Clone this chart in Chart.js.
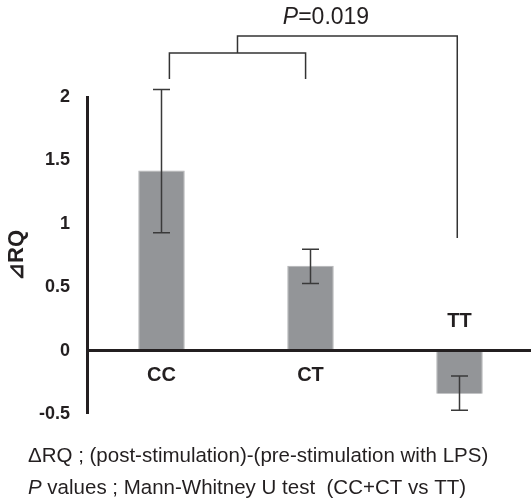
<!DOCTYPE html>
<html>
<head>
<meta charset="utf-8">
<script src="https://cdn.jsdelivr.net/npm/chart.js@4.4.1/dist/chart.umd.min.js"></script>
<style>
  html, body { margin: 0; padding: 0; background: #ffffff; overflow: hidden; }
  #wrap { width: 531px; height: 500px; overflow: hidden; position: relative; }
  canvas { display: block; }
</style>
</head>
<body>
<div id="wrap"><canvas id="chart" width="534" height="500"></canvas></div>
<script>
// ---- data ----
const categories = ['CC', 'CT', 'TT'];
const meanValues = [1.42, 0.67, -0.34];
const errorUpper = [2.06, 0.80, -0.20];
const errorLower = [0.93, 0.53, -0.47];
const yTickValues = [-0.5, 0, 0.5, 1, 1.5, 2];
const yTickLabels = ['-0.5', '0', '0.5', '1', '1.5', '2'];
const yTitle = '\u22BFRQ';
const pValueLabel = ['P', '=0.019'];
// bracket annotation levels (in data units) and category anchors
const innerBracket = { from: 0.053, to: 0.967, level: 2.347, legEnd: 2.142 };
const outerBracket = { to: 1.985, level: 2.481, rightLegEnd: 0.888, labelAt: 1.104, labelLevel: 2.574 };
const footnoteLine1 = '\u0394RQ ; (post-stimulation)-(pre-stimulation with LPS)';
const footnoteLine2 = ['P', ' values ; Mann-Whitney U test  (CC+CT vs TT)'];

const FONT = '"Liberation Sans", Arial, Helvetica, sans-serif';
const INK = '#231f20';

const overlayPlugin = {
  id: 'overlay',
  afterDatasetsDraw(chart) {
    const ctx = chart.ctx;
    const xs = chart.scales.x, ys = chart.scales.y;
    ctx.save();
    ctx.strokeStyle = '#3a3a3a';
    ctx.lineWidth = 1.5;
    const cap = 8.5;
    for (let i = 0; i < categories.length; i++) {
      const x = xs.getPixelForValue(i);
      const yt = ys.getPixelForValue(errorUpper[i]);
      const yb = ys.getPixelForValue(errorLower[i]);
      ctx.beginPath();
      ctx.moveTo(x, yt); ctx.lineTo(x, yb);
      ctx.moveTo(x - cap, yt); ctx.lineTo(x + cap, yt);
      ctx.moveTo(x - cap, yb); ctx.lineTo(x + cap, yb);
      ctx.stroke();
    }
    ctx.restore();
  },
  afterDraw(chart) {
    const ctx = chart.ctx;
    const xs = chart.scales.x, ys = chart.scales.y;
    const step = xs.getPixelForValue(1) - xs.getPixelForValue(0);
    const px = v => xs.getPixelForValue(0) + v * step;
    const py = v => ys.getPixelForValue(v);
    const zero = py(0);
    ctx.save();
    // category labels
    ctx.fillStyle = INK;
    ctx.font = 'bold 20px ' + FONT;
    ctx.textAlign = 'center';
    ctx.textBaseline = 'middle';
    for (let i = 0; i < categories.length; i++) {
      const y = meanValues[i] >= 0 ? zero + 25 : zero - 29;
      ctx.fillText(categories[i], xs.getPixelForValue(i), y);
    }
    // brackets
    ctx.strokeStyle = '#333333';
    ctx.lineWidth = 1.5;
    const ix1 = px(innerBracket.from), ix2 = px(innerBracket.to);
    const iy = py(innerBracket.level), iyEnd = py(innerBracket.legEnd);
    ctx.beginPath();
    ctx.moveTo(ix1, iyEnd); ctx.lineTo(ix1, iy); ctx.lineTo(ix2, iy); ctx.lineTo(ix2, iyEnd);
    const mid = (ix1 + ix2) / 2;
    const oy = py(outerBracket.level);
    const ox2 = px(outerBracket.to);
    ctx.moveTo(mid, iy); ctx.lineTo(mid, oy); ctx.lineTo(ox2, oy); ctx.lineTo(ox2, py(outerBracket.rightLegEnd));
    ctx.stroke();
    // P value label
    ctx.textBaseline = 'alphabetic';
    ctx.textAlign = 'left';
    ctx.font = 'italic 23px ' + FONT;
    const w1 = ctx.measureText(pValueLabel[0]).width;
    ctx.font = '23px ' + FONT;
    const w2 = ctx.measureText(pValueLabel[1]).width;
    const lx = px(outerBracket.labelAt) - (w1 + w2) / 2;
    const ly = py(outerBracket.labelLevel);
    ctx.font = 'italic 23px ' + FONT;
    ctx.fillText(pValueLabel[0], lx, ly);
    ctx.font = '23px ' + FONT;
    ctx.fillText(pValueLabel[1], lx + w1, ly);
    // footnotes
    const bottom = chart.chartArea.bottom;
    ctx.font = '20.5px ' + FONT;
    ctx.fillText(footnoteLine1, 28, bottom + 47.5);
    ctx.font = 'italic 20.5px ' + FONT;
    const fw = ctx.measureText(footnoteLine2[0]).width;
    ctx.fillText(footnoteLine2[0], 28, bottom + 80);
    ctx.font = '20.5px ' + FONT;
    ctx.fillText(footnoteLine2[1], 28 + fw, bottom + 80);
    ctx.restore();
  }
};

new Chart(document.getElementById('chart'), {
  type: 'bar',
  data: {
    labels: categories,
    datasets: [{
      data: meanValues,
      backgroundColor: '#939598',
      borderColor: '#b3b4b6',
      borderWidth: { left: 1, right: 1, top: 1, bottom: 0 },
      borderSkipped: 'start',
      barPercentage: 0.312,
      categoryPercentage: 1.0
    }]
  },
  options: {
    responsive: false,
    animation: false,
    devicePixelRatio: 1,
    layout: { padding: { top: 97, bottom: 86, left: 0, right: 0 } },
    plugins: { legend: { display: false }, tooltip: { enabled: false }, title: { display: false } },
    scales: {
      x: { type: 'category', display: false, offset: true },
      y: {
        min: -0.5, max: 2,
        z: 1,
        afterFit(scale) { scale.width = 87; },
        afterBuildTicks(scale) { scale.ticks = yTickValues.map(v => ({ value: v })); },
        ticks: {
          padding: 17,
          color: INK,
          font: { family: FONT, size: 18, weight: 'bold' },
          callback: (v) => { const k = yTickValues.indexOf(v); return k >= 0 ? yTickLabels[k] : ''; }
        },
        grid: {
          drawTicks: false,
          color: c => (c.tick && c.tick.value === 0) ? INK : 'rgba(0,0,0,0)',
          lineWidth: c => (c.tick && c.tick.value === 0) ? 3 : 0
        },
        border: { display: true, color: INK, width: 3 },
        title: {
          display: true,
          text: yTitle,
          color: INK,
          font: { family: FONT, size: 22, weight: 'bold' },
          padding: { top: 4, bottom: 0 }
        }
      }
    }
  },
  plugins: [overlayPlugin]
});
</script>
</body>
</html>
